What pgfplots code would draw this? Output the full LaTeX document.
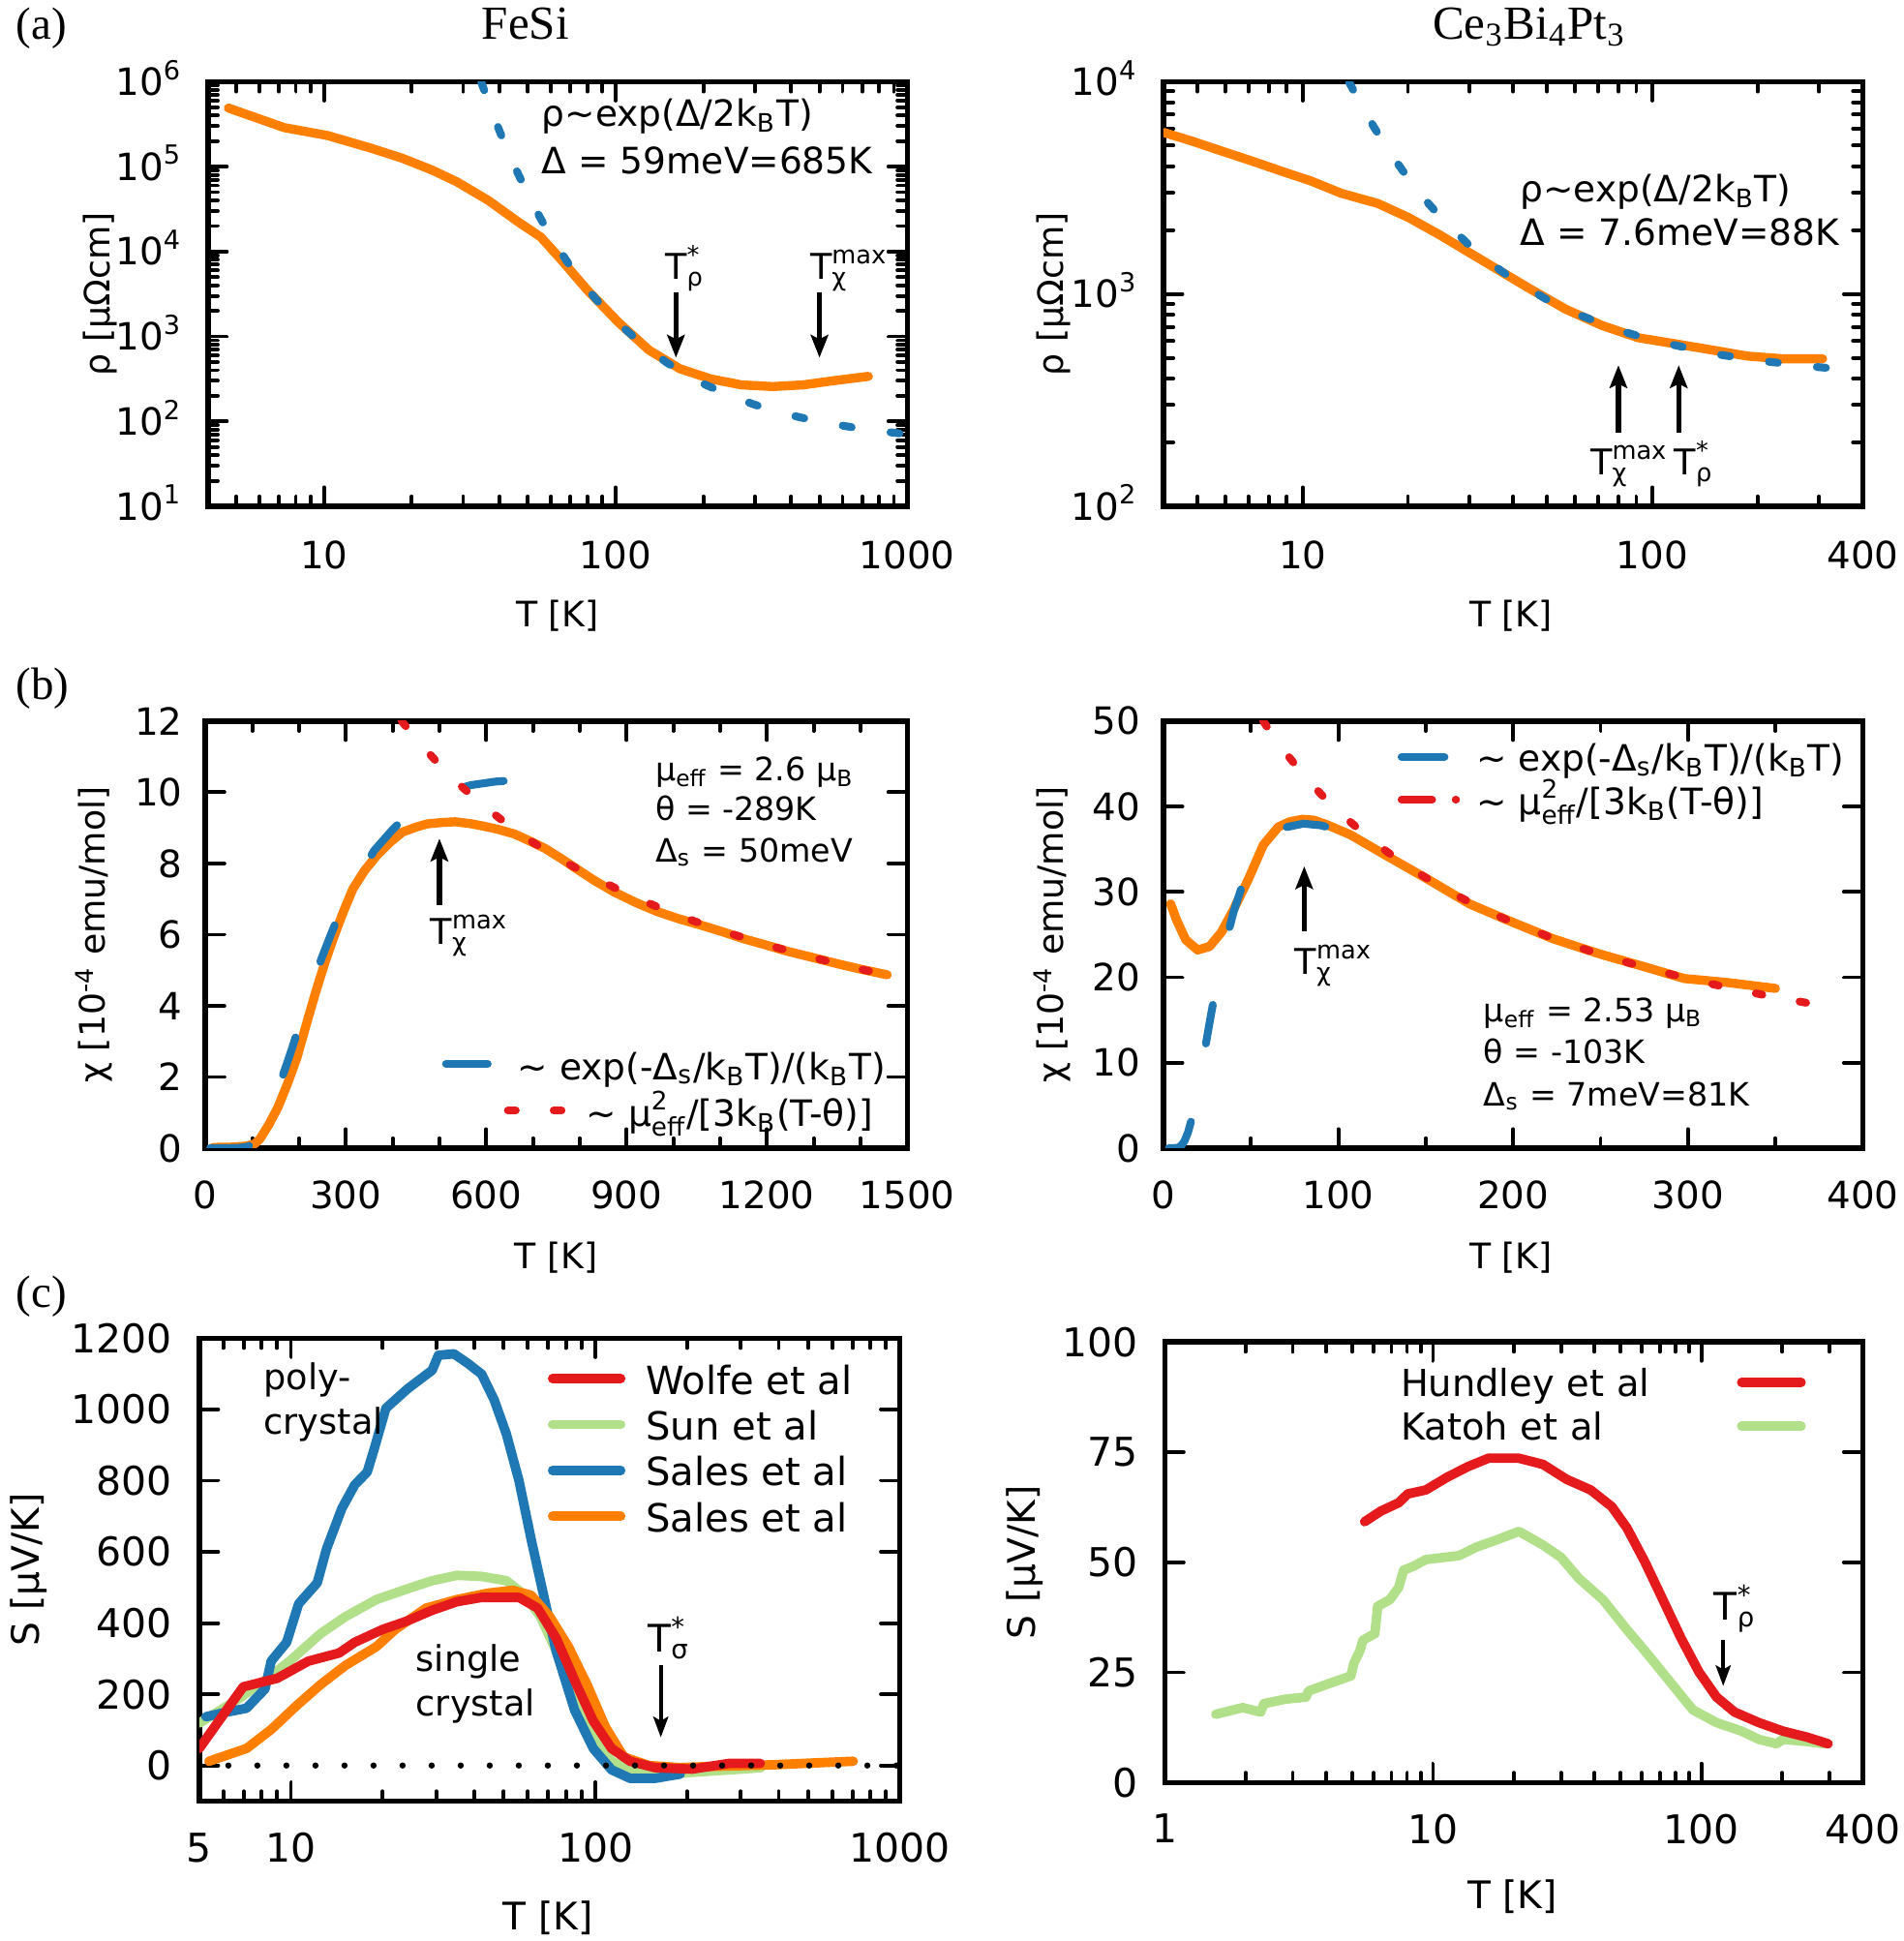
\documentclass[border=0pt]{standalone}
\usepackage{fontspec}
\setmainfont{DejaVu Sans}
\newfontfamily\titlefont{Liberation Serif}
\usepackage{amsmath}
\usepackage{pgfplots}
\pgfplotsset{compat=1.18}
\usetikzlibrary{arrows.meta}

\definecolor{cOrange}{HTML}{FF7F00}
\definecolor{cBlue}{HTML}{1F77B4}
\definecolor{cRed}{HTML}{E41A1C}
\definecolor{cGreen}{HTML}{B2DF8A}

\newcommand{\fs}[1]{\fontsize{#1}{#1}\selectfont}

\tikzset{
  tarrow/.style={black, line width=1.3pt, -{Stealth[length=5.5pt,width=4.2pt,inset=1pt]}},
  tarrowthin/.style={black, line width=1pt, -{Stealth[length=5pt,width=3.6pt,inset=1pt]}},
}

\pgfplotsset{
  /pgf/number format/1000 sep={},
  /pgf/number format/assume math mode=true,
  gpbox/.style={
    scale only axis,
    anchor=north west,
    axis line style={line width=1.3pt, line cap=rect},
    tick style={line width=0.9pt, black, line cap=round},
    major tick length=4.6pt,
    minor tick length=2.4pt,
    tick align=inside,
    tick label style={inner sep=0pt},
    clip=true,
  },
  fitdash/.style={cBlue, line width=1.9pt, line cap=round, dash pattern=on 2.2pt off 9.5pt},
  longdash/.style={cBlue, line width=1.9pt, line cap=round, dash pattern=on 9.5pt off 19.3pt},
  cwdash/.style={cRed, line width=1.9pt, line cap=round, dash pattern=on 1.6pt off 9.2pt},
  meas/.style={cOrange, line width=2.2pt, line cap=round, line join=round},
  seeb/.style={line width=2.3pt, line cap=round, line join=round},
  legline/.style 2 args={legend image code/.code={\draw[##1] (0pt,#2) -- (#1,#2);}},
  legBblue/.style={legend image code/.code={\draw[##1,solid] (0pt,3.8pt) -- (10.1pt,3.8pt);}},
  legBred/.style={legend image code/.code={\path[draw=none] (0pt,3.8pt) -- (10.1pt,3.8pt);
      \draw[##1,solid,overlay] (15pt,3.8pt) -- (16.9pt,3.8pt);
      \draw[##1,solid,overlay] (26.1pt,3.8pt) -- (28pt,3.8pt);}},
  legBRblue/.style={legend image code/.code={\draw[##1,solid] (0pt,3.5pt) -- (10.4pt,3.5pt);}},
  legBRred/.style={legend image code/.code={\path[draw=none] (0pt,3.5pt) -- (10.4pt,3.5pt);
      \draw[##1,solid,overlay] (0pt,3.5pt) -- (7.4pt,3.5pt);
      \draw[##1,solid,overlay] (13.1pt,3.5pt) -- (13.2pt,3.5pt);}},
}

\begin{document}
\begin{tikzpicture}[x=1pt,y=1pt]
\useasboundingbox (0,0) rectangle (461.4,-470.4);

% panel letters and compound names
\node[anchor=base west, inner sep=0pt, font=\titlefont\fs{11}] at (3.75,-9.5) {(a)};
\node[anchor=base west, inner sep=0pt, font=\titlefont\fs{11}] at (3.75,-169.5) {(b)};
\node[anchor=base west, inner sep=0pt, font=\titlefont\fs{11}] at (3.75,-316.8) {(c)};
\node[anchor=base, inner sep=0pt, font=\titlefont\fs{11.5}] at (127.35,-9.4) {FeSi};
\node[anchor=base, inner sep=0pt, font=\titlefont\fs{11.5}] at (370.65,-9.4) {Ce\textsubscript{3}Bi\textsubscript{4}Pt\textsubscript{3}};

%% ---------------- (a) FeSi resistivity ----------------
\begin{axis}[gpbox, at={(50.4pt,-19.8pt)}, width=169.5pt, height=102.9pt,
  xmode=log, ymode=log, xmin=4, xmax=1000, ymin=10, ymax=1e6,
  xtick={10,100,1000}, xticklabels={10,100,1000},
  minor xtick={5,6,7,8,9,20,30,40,50,60,70,80,90,200,300,400,500,600,700,800,900},
  ytick={10,100,1000,10000,100000,1000000},
  yticklabels={10\textsuperscript{1},10\textsuperscript{2},10\textsuperscript{3},10\textsuperscript{4},10\textsuperscript{5},10\textsuperscript{6}},
  minor ytick={20,30,40,50,60,70,80,90,200,300,400,500,600,700,800,900,
    2000,3000,4000,5000,6000,7000,8000,9000,20000,30000,40000,50000,60000,70000,80000,90000,
    200000,300000,400000,500000,600000,700000,800000,900000},
  tick label style={font=\fs{9.1}},
  xticklabel shift=8.2pt, yticklabel shift=6.0pt,
  yticklabel style={anchor=base east, yshift=-3.3pt},
  xlabel={T [K]}, ylabel={ρ [μΩcm]},
  label style={font=\fs{8.5}},
  xlabel style={at={(axis description cs:0.5,-0.284)}, anchor=base},
  ylabel style={at={(axis description cs:-0.1405,0.5)}, anchor=base},
]
\addplot[meas] coordinates {
(4.7,490000) (7.3,288000) (10.3,232000) (14.4,166000) (18.5,126000) (23.5,91000)
(28.6,66000) (36.6,40000) (46.7,21900) (55.4,14800) (65.6,7760) (79.8,3550)
(102,1480) (130,692) (166,417) (212,316) (270,269) (345,257) (440,269) (562,302) (736,339)};
\addplot[fitdash] coordinates {
(34.59,1000000) (35,888000) (40,261000) (45,101000) (50,47200) (55,25300) (60,15070)
(65,9715) (70,6670) (80,3617) (90,2248) (100,1536) (125,774) (150,490) (175,354)
(200,277) (250,197) (300,157) (400,118) (500,99) (700,81.5) (1000,70.4)};
\node[anchor=base west, inner sep=0pt, font=\fs{8.8}] at (axis cs:55.5,299000) {ρ∼exp(Δ/2k\textsubscript{B}T)};
\node[anchor=base west, inner sep=0pt, font=\fs{8.8}] at (axis cs:55.5,83400) {Δ = 59meV=685K};
\draw[tarrow] (axis cs:161,3330) -- (axis cs:161,562);
\draw[tarrow] (axis cs:500,3330) -- (axis cs:500,562);
\node[anchor=base west, inner sep=0pt, font=\fs{8.6}] at (axis cs:147,4650) {T$^{\text{*}}_{\text{ρ}}$};
\node[anchor=base west, inner sep=0pt, font=\fs{8.6}] at (axis cs:462,4650) {T$^{\text{max}}_{\text{χ}}$};
\end{axis}

%% ---------------- (a) Ce3Bi4Pt3 resistivity ----------------
\begin{axis}[gpbox, at={(282pt,-19.8pt)}, width=169.5pt, height=102.9pt,
  xmode=log, ymode=log, xmin=4, xmax=400, ymin=100, ymax=10000,
  xtick={10,100,400}, xticklabels={10,100,400},
  minor xtick={5,6,7,8,9,20,30,40,50,60,70,80,90,200,300},
  ytick={100,1000,10000},
  yticklabels={10\textsuperscript{2},10\textsuperscript{3},10\textsuperscript{4}},
  minor ytick={200,300,400,500,600,700,800,900,2000,3000,4000,5000,6000,7000,8000,9000},
  tick label style={font=\fs{9.1}},
  xticklabel shift=8.2pt, yticklabel shift=6.0pt,
  yticklabel style={anchor=base east, yshift=-3.3pt},
  xlabel={T [K]}, ylabel={ρ [μΩcm]},
  label style={font=\fs{8.5}},
  xlabel style={at={(axis description cs:0.497,-0.284)}, anchor=base},
  ylabel style={at={(axis description cs:-0.143,0.5)}, anchor=base},
]
\addplot[meas] coordinates {
(4.0,5770) (4.79,5270) (5.83,4730) (7.13,4240) (8.69,3790) (10.6,3400) (12.9,2980)
(16.4,2670) (20.1,2290) (24.5,1910) (29.9,1570) (36.5,1290) (44.6,1060) (56.6,847)
(71.8,711) (91.2,622) (116,583) (147,546) (187,510) (237,495) (307,495)};
\addplot[fitdash] coordinates {
(13.56,10000) (14,9040) (16,6100) (18,4495) (20,3520) (22.5,2757) (25,2267) (30,1691)
(35,1371) (40,1172) (50,940) (60,812) (80,676) (100,606) (150,523) (200,486) (300,452) (400,435)};
\node[anchor=base west, inner sep=0pt, font=\fs{8.8}] at (axis cs:41.7,2716) {ρ∼exp(Δ/2k\textsubscript{B}T)};
\node[anchor=base west, inner sep=0pt, font=\fs{8.8}] at (axis cs:41.7,1698) {Δ = 7.6meV=88K};
\draw[tarrow] (axis cs:80,221) -- (axis cs:80,462);
\draw[tarrow] (axis cs:119,221) -- (axis cs:119,462);
\node[anchor=base west, inner sep=0pt, font=\fs{8.6}] at (axis cs:66.2,140) {T$^{\text{max}}_{\text{χ}}$};
\node[anchor=base west, inner sep=0pt, font=\fs{8.6}] at (axis cs:115,140) {T$^{\text{*}}_{\text{ρ}}$};
\end{axis}

%% ---------------- (b) FeSi susceptibility ----------------
\begin{axis}[gpbox, at={(49.8pt,-174.75pt)}, width=170.1pt, height=103.5pt,
  xmin=0, xmax=1500, ymin=0, ymax=12,
  xtick={0,300,...,1500}, minor x tick num=2,
  ytick={0,2,...,12},
  tick label style={font=\fs{9.1}},
  xticklabel shift=7.7pt, yticklabel shift=5.4pt,
  xlabel={T [K]}, ylabel={χ [10\textsuperscript{-4} emu/mol]},
  label style={font=\fs{8.5}},
  xlabel style={at={(axis description cs:0.5,-0.283)}, anchor=base},
  ylabel style={at={(axis description cs:-0.143,0.5)}, anchor=base},
  legend style={at={(axis description cs:0.3360,0.2252)}, anchor=north west,
    draw=none, fill=none, inner xsep=0pt, inner ysep=0pt,
    row sep=2.78pt, column sep=6.3pt, cells={anchor=base west},
    nodes={inner sep=0pt, text height=6.5pt, text depth=2pt}, font=\fs{8.8}},
]
\addlegendimage{longdash, legBblue}
\addlegendentry{∼ exp(-Δ\textsubscript{s}/k\textsubscript{B}T)/(k\textsubscript{B}T)}
\addlegendimage{cwdash, legBred}
\addlegendentry{\hspace*{16.65pt}∼ μ$^{\text{2}}_{\text{eff}}$/[3k\textsubscript{B}(T-θ)]}
\addplot[meas, forget plot] coordinates {
(16,0.02) (60,0.03) (89,0.06) (105,0.12) (116,0.25) (135,0.65) (155,1.15) (175,1.8)
(195,2.52) (215,3.45) (235,4.36) (255,5.2) (275,5.96) (295,6.65) (315,7.28) (340,7.8)
(368,8.25) (395,8.6) (421,8.88) (450,9.02) (474,9.11) (505,9.15) (534,9.17) (565,9.12)
(594,9.05) (627,8.95) (660,8.83) (693,8.63) (726,8.42) (760,8.14) (793,7.85) (830,7.53)
(873,7.2) (920,6.9) (965,6.65) (1010,6.45) (1058,6.27) (1105,6.08) (1151,5.88) (1200,5.7)
(1244,5.53) (1300,5.35) (1351,5.18) (1400,5.03) (1457,4.87)};
\addplot[longdash, forget plot] coordinates {
(10,0) (40,0) (70,0.01) (90,0.04) (100,0.12) (110,0.4) (130,0.9) (150,1.5) (169,2.18)
(185,2.8) (202,3.5) (225,4.4) (248,5.33) (268,6.0) (288,6.65) (320,7.5) (361,8.37)
(400,8.95) (434,9.4) (470,9.75) (510,9.98) (567,10.2) (620,10.3) (673,10.35)};
\addplot[cwdash, forget plot] coordinates {
(419.3,12.0) (450,11.50) (500,10.77) (550,10.13) (600,9.56) (650,9.05)
(700,8.59) (750,8.18) (800,7.81) (900,7.15) (1000,6.59) (1100,6.12) (1200,5.71)
(1300,5.35) (1400,5.03) (1470,4.83)};
\node[anchor=base west, inner sep=0pt, font=\fs{7.8}] at (axis cs:960,10.31) {μ\textsubscript{eff} = 2.6 μ\textsubscript{B}};
\node[anchor=base west, inner sep=0pt, font=\fs{7.8}] at (axis cs:960,9.22) {θ = -289K};
\node[anchor=base west, inner sep=0pt, font=\fs{7.8}] at (axis cs:960,8.04) {Δ\textsubscript{s} = 50meV};
\draw[tarrow] (axis cs:500,6.83) -- (axis cs:500,8.7);
\node[anchor=base west, inner sep=0pt, font=\fs{8.6}] at (axis cs:479,5.73) {T$^{\text{max}}_{\text{χ}}$};
\end{axis}

%% ---------------- (b) Ce3Bi4Pt3 susceptibility ----------------
\begin{axis}[gpbox, at={(282pt,-174.75pt)}, width=169.5pt, height=103.5pt,
  xmin=0, xmax=400, ymin=0, ymax=50,
  xtick={0,100,...,400}, minor x tick num=1,
  ytick={0,10,...,50},
  tick label style={font=\fs{9.1}},
  xticklabel shift=7.7pt, yticklabel shift=5.4pt,
  xlabel={T [K]}, ylabel={χ [10\textsuperscript{-4} emu/mol]},
  label style={font=\fs{8.5}},
  xlabel style={at={(axis description cs:0.497,-0.283)}, anchor=base},
  ylabel style={at={(axis description cs:-0.143,0.5)}, anchor=base},
  legend style={at={(axis description cs:0.3337,0.947)}, anchor=north west,
    draw=none, fill=none, inner xsep=0pt, inner ysep=0pt,
    row sep=1.9pt, column sep=6.8pt, cells={anchor=base west},
    nodes={inner sep=0pt, text height=6.5pt, text depth=2pt}, font=\fs{8.8}},
]
\addlegendimage{longdash, legBRblue}
\addlegendentry{∼ exp(-Δ\textsubscript{s}/k\textsubscript{B}T)/(k\textsubscript{B}T)}
\addlegendimage{cwdash, legBRred}
\addlegendentry{∼ μ$^{\text{2}}_{\text{eff}}$/[3k\textsubscript{B}(T-θ)]}
\addplot[meas, forget plot] coordinates {
(4.1,28.6) (7.5,26.7) (12.7,24.4) (19.5,23.2) (26.3,23.6) (33.2,25.3) (40,27.9)
(48.6,31.5) (57.1,35.5) (65.7,37.6) (72,38.2) (79.4,38.5) (86,38.4) (93,37.9) (106.8,36.7)
(127,34.3) (151,31.5) (175,28.6) (199,26.5) (223,24.5) (250,22.7) (274,21.3)
(298,19.85) (322,19.4) (350,18.7)};
\addplot[longdash, forget plot] coordinates {
(3,0) (5,0) (8,0.04) (10,0.25) (12,0.82) (14,1.83) (16,3.31) (18,5.16) (20,7.29)
(22.5,10.16) (25,13.10) (27.5,16.00) (30,18.74) (35,23.63) (40,27.60) (45,30.73)
(50,33.11) (60,36.14) (70,37.57) (80,37.99) (90,37.79) (100,37.22)};
\addplot[cwdash, forget plot] coordinates {
(57,50.0) (60,49.08) (70,46.24) (80,43.72) (90,41.45) (100,39.41) (120,35.87) (140,32.92)
(160,30.42) (180,28.27) (200,26.40) (225,24.39) (250,22.66) (275,21.16) (300,19.85)
(325,18.69) (350,17.66) (383,16.46)};
\node[anchor=base west, inner sep=0pt, font=\fs{7.8}] at (axis cs:182.7,14.77) {μ\textsubscript{eff} = 2.53 μ\textsubscript{B}};
\node[anchor=base west, inner sep=0pt, font=\fs{7.8}] at (axis cs:182.7,9.87) {θ = -103K};
\node[anchor=base west, inner sep=0pt, font=\fs{7.8}] at (axis cs:182.7,4.93) {Δ\textsubscript{s} = 7meV=81K};
\draw[tarrow] (axis cs:80.5,25.4) -- (axis cs:80.5,33.0);
\node[anchor=base west, inner sep=0pt, font=\fs{8.6}] at (axis cs:74.7,20.3) {T$^{\text{max}}_{\text{χ}}$};
\end{axis}

%% ---------------- (c) FeSi thermopower ----------------
\begin{axis}[gpbox, at={(48.3pt,-324.3pt)}, width=169.8pt, height=112.2pt,
  xmode=log, xmin=5, xmax=1000, ymin=-100, ymax=1200,
  xtick={5,10,100,1000}, xticklabels={5,10,100,1000},
  minor xtick={6,7,8,9,20,30,40,50,60,70,80,90,200,300,400,500,600,700,800,900},
  ytick={0,200,...,1200},
  tick label style={font=\fs{9.6}},
  xticklabel shift=7.5pt, yticklabel shift=6.5pt,
  xlabel={T [K]}, ylabel={S [μV/K]},
  label style={font=\fs{9.2}},
  xlabel style={at={(axis description cs:0.498,-0.278)}, anchor=base},
  ylabel style={at={(axis description cs:-0.228,0.5)}, anchor=base},
  legline={16.5pt}{3.75pt},
  legend style={at={(axis description cs:0.4964,0.9452)}, anchor=north west,
    draw=none, fill=none, inner xsep=0pt, inner ysep=0pt,
    row sep=1.73pt, column sep=5.0pt, cells={anchor=base west},
    nodes={inner sep=0pt, text height=7.2pt, text depth=2.2pt}, font=\fs{9.4}},
]
\addlegendimage{seeb, cRed}\addlegendentry{Wolfe et al}
\addlegendimage{seeb, cGreen}\addlegendentry{Sun et al}
\addlegendimage{seeb, cBlue}\addlegendentry{Sales et al}
\addlegendimage{seeb, cOrange}\addlegendentry{Sales et al}
% Sun et al
\addplot[seeb, cGreen, forget plot] coordinates {
(5,119) (6.5,179) (8.22,239) (9.9,293) (12.5,370) (15.1,418) (19.1,466) (24.1,496)
(29.1,519) (35.1,534) (42.3,531) (51,519) (58.7,478) (66,418) (74.3,322) (85.5,203)
(98.4,84) (113,12) (136,-18) (173,-24) (218,-18) (303,-10) (350,-6)};
% Sales et al, polycrystal
\addplot[seeb, cBlue, forget plot] coordinates {
(5.26,137) (6,148) (7.15,161) (8.22,215) (8.61,293) (9.68,346) (10.6,454) (12.2,513)
(13.1,609) (14.7,722) (16.2,788) (17.8,824) (18.7,884) (20.5,1003) (24.1,1057)
(29.1,1110) (30.5,1152) (34.3,1156) (38,1130) (42.3,1099) (46.5,1027) (51,931)
(56.1,800) (61.6,633) (67.6,478) (74.3,322) (85.5,155) (98.4,48) (113,-12) (130,-36)
(157,-36) (190,-24)};
% Sales et al, single crystal
\addplot[seeb, cOrange, forget plot] coordinates {
(5.38,12) (7.15,48) (8.61,101) (10.4,167) (12.5,227) (15.1,281) (19.1,334) (22,382)
(27.8,442) (35.1,466) (44.4,484) (53.5,492) (61.5,478) (70.8,418) (81.5,334) (93.9,227)
(108,107) (124,24) (150,0) (190,-6) (251,-2) (383,2) (484,6) (703,12)};
% Wolfe et al
\addplot[seeb, cRed, forget plot] coordinates {
(5,48) (6.97,221) (9.02,245) (11.4,293) (14.4,316) (16.2,346) (20,382) (24.1,406)
(29.1,436) (35.1,460) (42.3,472) (56.1,472) (64.6,442) (74.3,358) (85.5,239) (98.4,125)
(113,48) (130,12) (157,-6) (208,-10) (275,6) (348,6)};
% zero line
\addplot[black, line width=1.5pt, line cap=round, dash pattern=on 0pt off 7.04pt, forget plot]
  coordinates {(5,0) (1000,0)};
\node[anchor=base west, inner sep=0pt, font=\fs{8.6}] at (axis cs:8.1,1054) {poly-};
\node[anchor=base west, inner sep=0pt, font=\fs{8.6}] at (axis cs:8.1,929) {crystal};
\node[anchor=base west, inner sep=0pt, font=\fs{8.6}] at (axis cs:25.6,263) {single};
\node[anchor=base west, inner sep=0pt, font=\fs{8.6}] at (axis cs:25.6,138) {crystal};
\draw[tarrowthin] (axis cs:164,282) -- (axis cs:164,79);
\node[anchor=base west, inner sep=0pt, font=\fs{9.2}] at (axis cs:148,318) {T$^{\text{*}}_{\text{σ}}$};
\end{axis}

%% ---------------- (c) Ce3Bi4Pt3 thermopower ----------------
\begin{axis}[gpbox, at={(282.3pt,-325.2pt)}, width=169.2pt, height=106.8pt,
  xmode=log, xmin=1, xmax=400, ymin=0, ymax=100,
  xtick={1,10,100,400}, xticklabels={1,10,100,400},
  minor xtick={2,3,4,5,6,7,8,9,20,30,40,50,60,70,80,90,200,300},
  ytick={0,25,...,100},
  tick label style={font=\fs{9.6}},
  xticklabel shift=7.4pt, yticklabel shift=6.3pt,
  xlabel={T [K]}, ylabel={S [μV/K]},
  label style={font=\fs{9.2}},
  xlabel style={at={(axis description cs:0.498,-0.2865)}, anchor=base},
  ylabel style={at={(axis description cs:-0.185,0.5)}, anchor=base},
  legline={14.4pt}{3.4pt},
  legend plot pos=right,
  legend style={at={(axis description cs:0.3368,0.943)}, anchor=north west,
    draw=none, fill=none, inner xsep=0pt, inner ysep=0pt,
    row sep=1.65pt, column sep=0pt, cells={anchor=base west},
    nodes={inner sep=0pt, text height=6.9pt, text depth=2.1pt, text width=81.5pt, align=left},
    font=\fs{9.0}},
]
\addlegendimage{seeb, cRed}\addlegendentry{Hundley et al}
\addlegendimage{seeb, cGreen}\addlegendentry{Katoh et al}
% Katoh et al
\addplot[seeb, cGreen, forget plot] coordinates {
(1.55,15.5) (1.95,17.0) (2.28,16.0) (2.34,17.9) (2.8,18.9) (3.36,19.4) (3.44,20.8)
(4.02,22.3) (4.94,24.2) (5.07,27.1) (5.34,29.9) (5.48,32.3) (6.07,33.8) (6.22,40.0)
(6.9,41.5) (7.45,44.3) (7.77,48.2) (8.47,49.1) (9.4,50.6) (12.5,51.5) (14.6,53.5)
(17,54.9) (20.9,57.0) (25.7,53.9) (30,51.1) (35,46.3) (43,41.5) (52.8,34.7) (61.6,29.9)
(75.7,23.2) (93,16.5) (114,13.6) (141,11.7) (164,9.8) (191,8.8) (201,9.8) (248,9.3) (289,8.8)};
% Hundley et al
\addplot[seeb, cRed, forget plot] coordinates {
(5.56,59.2) (6.39,61.6) (7.45,63.5) (8.05,65.5) (9.4,66.4) (11.3,69.3) (13.5,71.7)
(16.1,73.6) (20.9,73.6) (25.7,72.2) (31.5,68.8) (38.7,66.4) (46.4,62.6) (52.8,57.8)
(61.6,50.1) (71.9,41.5) (84,32.8) (98,25.1) (114,19.4) (133,16.0) (164,13.6) (201,11.7)
(248,10.3) (297,8.8)};
\draw[tarrowthin] (axis cs:120.7,32.4) -- (axis cs:120.7,21.9);
\node[anchor=base west, inner sep=0pt, font=\fs{9.2}] at (axis cs:110.9,36.8) {T$^{\text{*}}_{\text{ρ}}$};
\end{axis}
\end{tikzpicture}
\end{document}
